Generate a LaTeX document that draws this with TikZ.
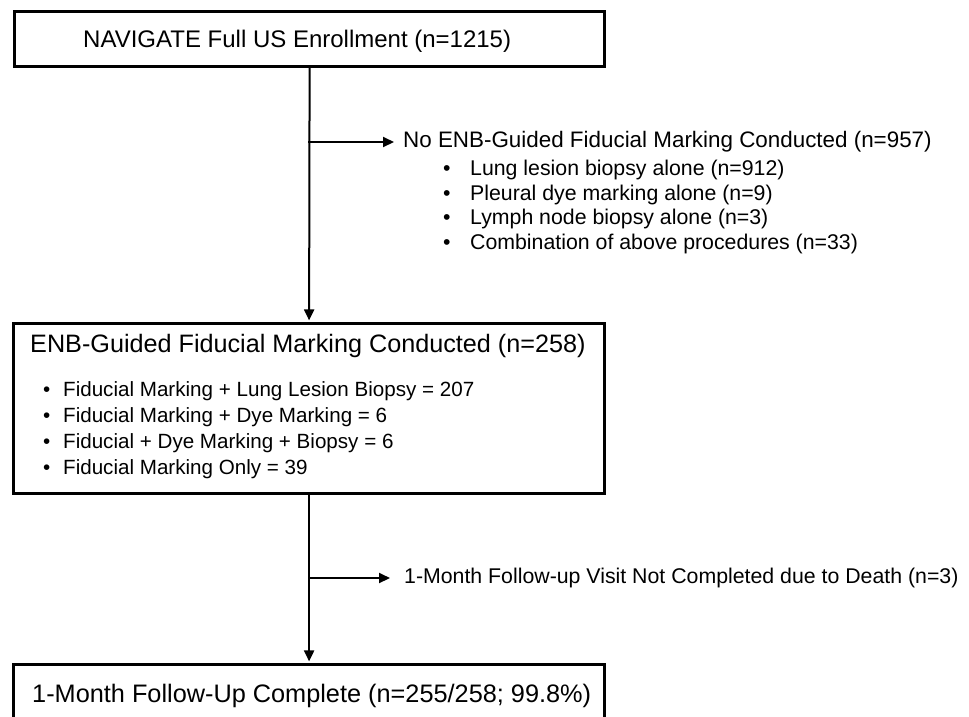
\documentclass[tikz,border=0pt]{standalone}
\usepackage{fontspec}
\setmainfont{Liberation Sans}
\usetikzlibrary{arrows.meta}
\begin{document}
\begin{tikzpicture}[x=1pt,y=-1pt,
  box/.style={draw=black, line width=3.2pt, inner sep=0pt, anchor=north west},
  big/.style={anchor=base west, inner sep=0pt, font=\fontsize{25.2}{29}\selectfont},
  mid/.style={anchor=base west, inner sep=0pt, font=\fontsize{21.3}{25}\selectfont},
  sml/.style={anchor=base west, inner sep=0pt, font=\fontsize{20.6}{24}\selectfont},
  conn/.style={line width=2pt, -{Triangle[length=11pt,width=10pt]}},
]
\useasboundingbox (0,0) rectangle (969,716);
\clip (0,0) rectangle (969,716);
\fill[white] (0,0) rectangle (969,716);

% boxes
\node[box, minimum width=590pt, minimum height=55pt] (b1) at (13,10) {};
\node[box, minimum width=591pt, minimum height=170pt] (b2) at (12,322) {};
\node[box, minimum width=591pt, minimum height=90pt] (b3) at (12,663) {};

% box texts
\node[big, font=\fontsize{24}{28}\selectfont] (t1) at (83,47) {NAVIGATE Full US Enrollment (n=1215)};
\node[big] (t2) at (30,352) {ENB-Guided Fiducial Marking Conducted (n=258)};
\node[sml] (t2a) at (43,396) {\makebox[20pt][l]{•}Fiducial Marking + Lung Lesion Biopsy = 207};
\node[sml] (t2b) at (43,422) {\makebox[20pt][l]{•}Fiducial Marking + Dye Marking = 6};
\node[sml] (t2c) at (43,448) {\makebox[20pt][l]{•}Fiducial + Dye Marking + Biopsy = 6};
\node[sml] (t2d) at (43,474) {\makebox[20pt][l]{•}Fiducial Marking Only = 39};
\node[big, font=\fontsize{25.3}{30}\selectfont] (t3) at (32,702) {1-Month Follow-Up Complete (n=255/258; 99.8\%)};

% side texts
\node[mid, anchor=west, inner xsep=9pt, inner ysep=0pt, font=\fontsize{22.4}{26}\selectfont] (s1) at (394,142) {No ENB-Guided Fiducial Marking Conducted (n=957)};
\node[mid] (s1a) at (443,175) {\makebox[27pt][l]{•}Lung lesion biopsy alone (n=912)};
\node[mid] (s1b) at (443,200) {\makebox[27pt][l]{•}Pleural dye marking alone (n=9)};
\node[mid] (s1c) at (443,224) {\makebox[27pt][l]{•}Lymph node biopsy alone (n=3)};
\node[mid] (s1d) at (443,249) {\makebox[27pt][l]{•}Combination of above procedures (n=33)};
\node[mid, anchor=west, inner xsep=14pt, inner ysep=0pt] (s2) at (390,578) {1-Month Follow-up Visit Not Completed due to Death (n=3)};

% junctions
\coordinate (j1) at (308,142);
\coordinate (j2) at (308,578);

% connectors
\draw[conn, shorten >=1.6pt] (b1.south) -- (b2.north);
\draw[conn, shorten >=1.6pt] (b2.south) -- (b3.north);
\draw[conn] (j1) -- (s1.west);
\draw[conn] (j2) -- (s2.west);
\end{tikzpicture}
\end{document}
